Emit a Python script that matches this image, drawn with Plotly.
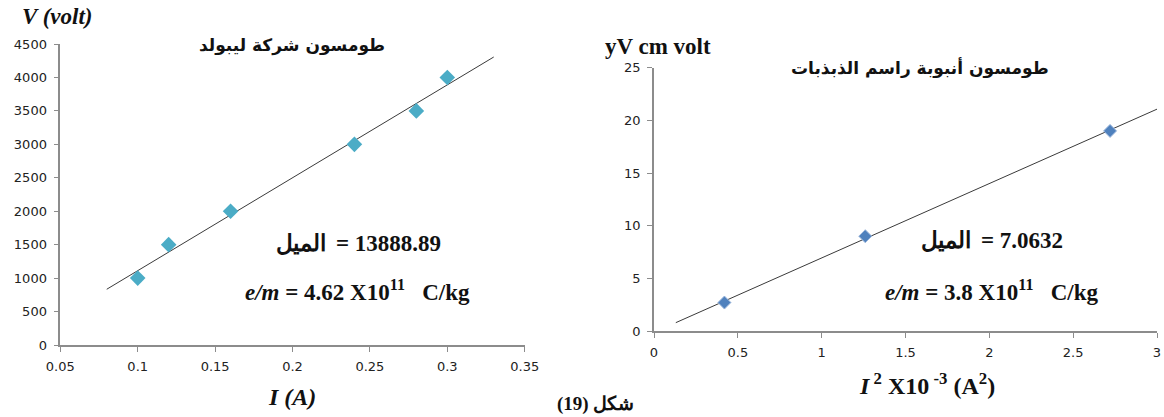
import numpy as np
import plotly.graph_objects as go

# Leybold apparatus: current I (A) vs voltage V (volt)
leybold_current = [0.10, 0.12, 0.16, 0.24, 0.28, 0.30]
leybold_voltage = [1000, 1500, 2000, 3000, 3500, 4000]
leybold_slope = 13888.89
leybold_fit_range = [0.08, 0.33]

# Oscilloscope tube: I^2 (x10^-3 A^2) vs yV (cm volt)
tube_current_sq = [0.42, 1.26, 2.72]
tube_deflection = [2.7, 9.0, 19.0]
tube_slope = 7.0632
tube_fit_range = [0.13, 3.02]

left_xticks = [0.05, 0.1, 0.15, 0.2, 0.25, 0.3, 0.35]
left_yticks = [0, 500, 1000, 1500, 2000, 2500, 3000, 3500, 4000, 4500]
right_xticks = [0, 0.5, 1, 1.5, 2, 2.5, 3]
right_yticks = [0, 5, 10, 15, 20, 25]

W, H = 1164, 417


def fit_line(xs, ys, slope, xr):
    # line through the data centroid with the stated slope
    b = np.mean(ys) - slope * np.mean(xs)
    xx = np.array(xr)
    return xx, slope * xx + b


def px(x):
    return x / W


def py(y):
    return 1 - y / H


fig = go.Figure()

lx, ly = fit_line(leybold_current, leybold_voltage, leybold_slope, leybold_fit_range)
fig.add_trace(go.Scatter(x=lx, y=ly, mode="lines", line=dict(color="#3a3a3a", width=1),
                         xaxis="x", yaxis="y", hoverinfo="skip"))
fig.add_trace(go.Scatter(x=leybold_current, y=leybold_voltage, mode="markers",
                         marker=dict(symbol="diamond", size=12, color="#4BACC6"),
                         xaxis="x", yaxis="y"))

rx, ry = fit_line(tube_current_sq, tube_deflection, tube_slope, tube_fit_range)
fig.add_trace(go.Scatter(x=rx, y=ry, mode="lines", line=dict(color="#3a3a3a", width=1),
                         xaxis="x2", yaxis="y2", hoverinfo="skip"))
fig.add_trace(go.Scatter(x=tube_current_sq, y=tube_deflection, mode="markers",
                         marker=dict(symbol="diamond", size=10, color="#4F81BD",
                                     line=dict(color="#9DB7DC", width=1)),
                         xaxis="x2", yaxis="y2"))

axis_common = dict(showgrid=False, zeroline=False, showline=True, linecolor="#8c8c8c",
                   linewidth=1.5, ticks="outside", ticklen=5, tickcolor="#8c8c8c",
                   automargin=False, ticklabelstandoff=4,
                   tickfont=dict(family="DejaVu Sans", size=13, color="#222"))

fig.update_layout(
    width=W, height=H, margin=dict(l=0, r=0, t=0, b=0),
    paper_bgcolor="white", plot_bgcolor="white", showlegend=False,
    xaxis=dict(domain=[px(60.3), px(524.7)], range=[0.05, 0.35], anchor="y",
               tickvals=left_xticks, ticktext=[f"{v:g}" for v in left_xticks], **axis_common),
    yaxis=dict(domain=[py(345), py(44)], range=[0, 4500], anchor="x",
               tickvals=left_yticks, ticktext=[str(v) for v in left_yticks], **axis_common),
    xaxis2=dict(domain=[px(654), px(1157)], range=[0, 3], anchor="y2",
                tickvals=right_xticks, ticktext=[f"{v:g}" for v in right_xticks], **axis_common),
    yaxis2=dict(domain=[py(331), py(67.7)], range=[0, 25], anchor="x2",
                tickvals=right_yticks, ticktext=[str(v) for v in right_yticks], **axis_common),
)

serif = "Liberation Serif"
arab = "DejaVu Sans"


def note(x, y, text, family, size, xanchor="center"):
    fig.add_annotation(x=px(x), y=py(y), xref="paper", yref="paper", text=text,
                       showarrow=False, xanchor=xanchor, yanchor="middle",
                       font=dict(family=family, size=size, color="#111"))


# left panel texts
note(57, 17, "<b><i>V (volt)</i></b>", serif, 23)
note(292, 46, "<b>طومسون شركة ليبولد</b>", arab, 17)
note(328, 243, "<b>الميل</b>", serif, 23, "right")
note(334, 243, f"<b>= {leybold_slope:.2f}</b>", serif, 23, "left")
note(243, 290, "<b><i>e/m</i> = 4.62 X10<sup>11</sup>   C/kg</b>", serif, 23, "left")
note(292, 397, "<b><i>I (A)</i></b>", serif, 24)

# right panel texts
note(658, 47, "<b>yV cm volt</b>", serif, 23)
note(920, 68, "<b>طومسون أنبوبة راسم الذبذبات</b>", arab, 17)
note(973, 240, "<b>الميل</b>", serif, 23, "right")
note(979, 240, f"<b>= {tube_slope:.4f}</b>", serif, 23, "left")
note(883, 290, "<b><i>e/m</i> = 3.8 X10<sup>11</sup>   C/kg</b>", serif, 23, "left")
note(927, 384, "<b><i>I</i><sup> 2</sup> X10<sup> -3</sup> (A<sup>2</sup>)</b>", serif, 24)

# figure caption
note(595, 404, "<b>شكل (19)</b>", serif, 19)

fig.write_html("out.html")
